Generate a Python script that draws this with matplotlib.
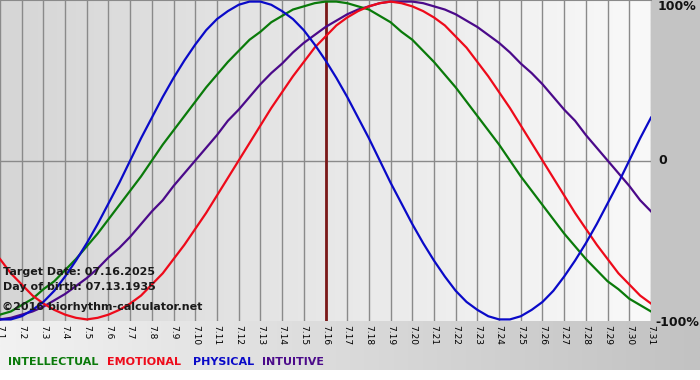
import numpy as np
import matplotlib
matplotlib.use('Agg')
import matplotlib.pyplot as plt
from matplotlib.colors import LinearSegmentedColormap

# days of July 2025 shown on the x axis
DAYS = list(range(1, 32))
DAY_LABELS = ['7.%d' % d for d in DAYS]
TARGET_DAY = 16
# curves every half day, 7.1 .. 7.31
SAMPLE_DAYS = np.arange(1, 31.5, 0.5)

# biorhythm values (-1 .. 1)
PHYSICAL = [-1.00, -1.00, -0.98, -0.94, -0.89, -0.82, -0.73, -0.63, -0.52, -0.40,
            -0.27, -0.14, 0.00, 0.14, 0.27, 0.40, 0.52, 0.63, 0.73, 0.82,
            0.89, 0.94, 0.98, 1.00, 1.00, 0.98, 0.94, 0.89, 0.82, 0.73,
            0.63, 0.52, 0.40, 0.27, 0.14, 0.00, -0.14, -0.27, -0.40, -0.52,
            -0.63, -0.73, -0.82, -0.89, -0.94, -0.98, -1.00, -1.00, -0.98, -0.94,
            -0.89, -0.82, -0.73, -0.63, -0.52, -0.40, -0.27, -0.14, 0.00, 0.14,
            0.27]
EMOTIONAL = [-0.62, -0.71, -0.78, -0.85, -0.90, -0.94, -0.97, -0.99, -1.00, -0.99,
             -0.97, -0.94, -0.90, -0.85, -0.78, -0.71, -0.62, -0.53, -0.43, -0.33,
             -0.22, -0.11, 0.00, 0.11, 0.22, 0.33, 0.43, 0.53, 0.62, 0.71,
             0.78, 0.85, 0.90, 0.94, 0.97, 0.99, 1.00, 0.99, 0.97, 0.94,
             0.90, 0.85, 0.78, 0.71, 0.62, 0.53, 0.43, 0.33, 0.22, 0.11,
             0.00, -0.11, -0.22, -0.33, -0.43, -0.53, -0.62, -0.71, -0.78, -0.85,
             -0.90]
INTELLECTUAL = [-0.97, -0.95, -0.91, -0.87, -0.81, -0.76, -0.69, -0.62, -0.54, -0.46,
                -0.37, -0.28, -0.19, -0.10, 0.00, 0.10, 0.19, 0.28, 0.37, 0.46,
                0.54, 0.62, 0.69, 0.76, 0.81, 0.87, 0.91, 0.95, 0.97, 0.99,
                1.00, 1.00, 0.99, 0.97, 0.95, 0.91, 0.87, 0.81, 0.76, 0.69,
                0.62, 0.54, 0.46, 0.37, 0.28, 0.19, 0.10, 0.00, -0.10, -0.19,
                -0.28, -0.37, -0.46, -0.54, -0.62, -0.69, -0.76, -0.81, -0.87, -0.91,
                -0.95]
INTUITIVE = [-1.00, -0.99, -0.97, -0.95, -0.92, -0.88, -0.84, -0.79, -0.74, -0.68,
             -0.61, -0.55, -0.48, -0.40, -0.32, -0.25, -0.16, -0.08, 0.00, 0.08,
             0.16, 0.25, 0.32, 0.40, 0.48, 0.55, 0.61, 0.68, 0.74, 0.79,
             0.84, 0.88, 0.92, 0.95, 0.97, 0.99, 1.00, 1.00, 1.00, 0.99,
             0.97, 0.95, 0.92, 0.88, 0.84, 0.79, 0.74, 0.68, 0.61, 0.55,
             0.48, 0.40, 0.32, 0.25, 0.16, 0.08, 0.00, -0.08, -0.16, -0.25,
             -0.32]

SERIES_NAMES = ['INTELLECTUAL', 'EMOTIONAL', 'PHYSICAL', 'INTUITIVE']
COLORS = {
    'INTELLECTUAL': '#0a7a0a',
    'EMOTIONAL': '#ee0a1a',
    'PHYSICAL': '#0a0ac8',
    'INTUITIVE': '#4b0a8a',
}
Y_LABELS = ['100%', '0', '-100%']
INFO_LINES = ['Target Date: 07.16.2025', 'Day of birth: 07.13.1935']
COPYRIGHT = '\u00a92016 biorhythm-calculator.net'

W, H = 700, 380


def px(x, y):
    """pixel coords (from top left) -> figure fraction"""
    return x / W, 1 - y / H


fig = plt.figure(figsize=(7, 3.8), dpi=100)
fig.patch.set_facecolor('white')

# background panels: right margin and bottom strip
bg = fig.add_axes([0, 0, 1, 1], zorder=0)
bg.set_xlim(0, W)
bg.set_ylim(H, 0)
bg.axis('off')
bg.add_patch(plt.Rectangle((651, 0), W - 651, 321, color='#c4c4c4', lw=0))
strip = np.linspace(0, 1, 256).reshape(1, -1)
strip_cmap = LinearSegmentedColormap.from_list('strip', ['#f2f2f2', '#c2c2c2'])
bg.imshow(strip, extent=(0, W, 370, 321), cmap=strip_cmap, aspect='auto')

# main plot area
x0, y0 = px(0, 321)
x1, y1 = px(651, 0)
ax = fig.add_axes([x0, y0, x1 - x0, y1 - y0], zorder=1)
plot_cmap = LinearSegmentedColormap.from_list('plot', ['#d6d6d6', '#f9f9f9'])
ax.imshow(strip, extent=(DAYS[0], DAYS[-1], -1.01, 1.01), cmap=plot_cmap,
          aspect='auto', zorder=0)
ax.set_xlim(DAYS[0], DAYS[-1])
ax.set_ylim(-1.01, 1.01)

for d in DAYS:
    ax.axvline(d, color='#8a8a8a', lw=1, zorder=1)
ax.axhline(0, color='#8a8a8a', lw=1, zorder=1)
ax.axvline(TARGET_DAY, color='#7a1818', lw=2, zorder=2)

series = {
    'INTELLECTUAL': INTELLECTUAL,
    'EMOTIONAL': EMOTIONAL,
    'PHYSICAL': PHYSICAL,
    'INTUITIVE': INTUITIVE,
}
for name in ['INTUITIVE', 'INTELLECTUAL', 'EMOTIONAL', 'PHYSICAL']:
    ax.plot(SAMPLE_DAYS, series[name], color=COLORS[name], lw=1.6, zorder=3,
            solid_joinstyle='round')

ax.set_xticks(DAYS)
ax.set_xticklabels(DAY_LABELS, rotation=270, fontsize=6.5, va='top', ha='center')
ax.tick_params(axis='x', length=0, pad=3)
ax.set_yticks([])
for sp in ax.spines.values():
    sp.set_visible(False)
ax.spines['top'].set_visible(True)
ax.spines['top'].set_color('#8a8a8a')

# info text inside plot
for i, line in enumerate(INFO_LINES):
    fig.text(*px(3, 272 + 15 * i), line, fontsize=8, fontweight='bold',
             color='#1a1a1a', va='center', ha='left', zorder=5)
fig.text(*px(2, 307), COPYRIGHT, fontsize=8, fontweight='bold',
         color='#1a1a1a', va='center', ha='left', zorder=5)

# right side percentage labels
for lab, xx, yy in zip(Y_LABELS, [658, 658, 655], [7, 161, 322]):
    fig.text(*px(xx, yy), lab, fontsize=9, fontweight='bold', color='#111111',
             va='center', ha='left', zorder=5)

# legend words
for name, xx in zip(SERIES_NAMES, [8, 107, 193, 262]):
    fig.text(*px(xx, 362), name, fontsize=8, fontweight='bold',
             color=COLORS[name], va='center', ha='left', zorder=5)

fig.savefig('out.png', dpi=100)
